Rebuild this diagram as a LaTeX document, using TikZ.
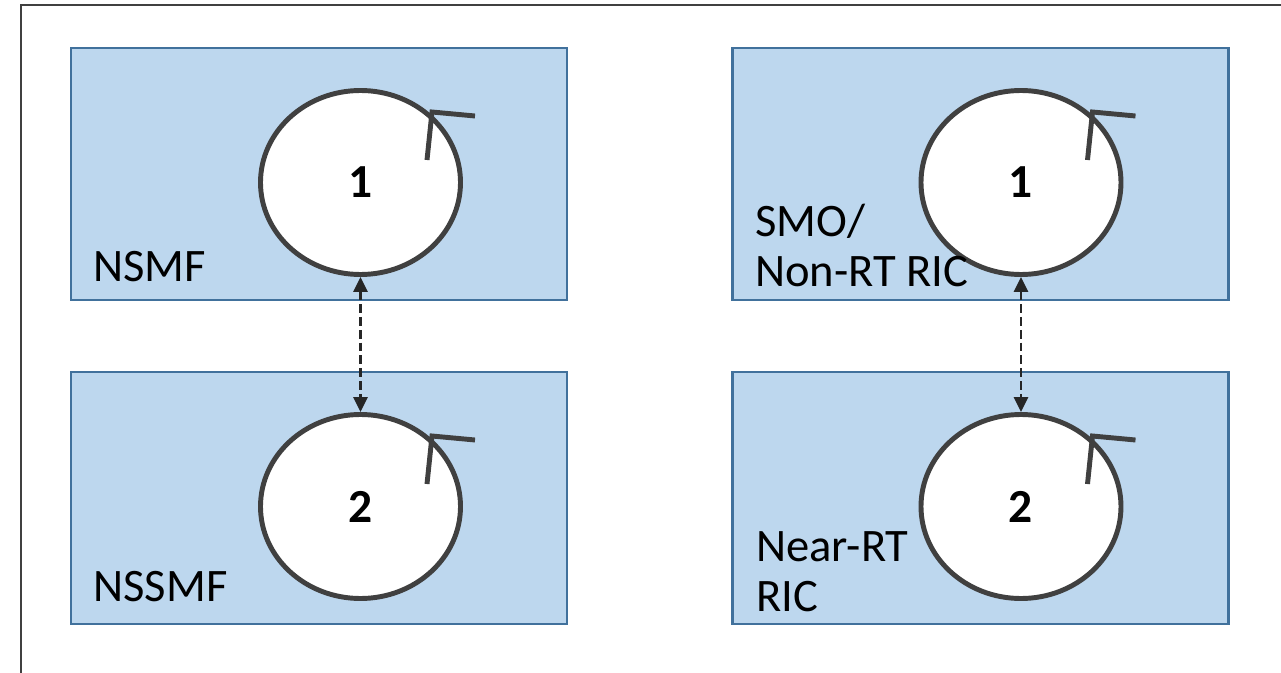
\documentclass[tikz,border=0pt]{standalone}
\usepackage{fontspec}
\setmainfont{Carlito}
\usepackage{tikz}
\usetikzlibrary{arrows.meta,shapes.geometric}
\usepackage{xcolor}
\definecolor{boxfill}{HTML}{BDD7EE}
\definecolor{boxline}{HTML}{41719C}
\definecolor{ring}{HTML}{404040}
\definecolor{arrowgray}{HTML}{262626}

\begin{document}
\begin{tikzpicture}[
    layer/.style={draw=boxline, fill=boxfill, line width=1.4pt,
                  minimum width=9.92cm, minimum height=5.04cm,
                  inner sep=0pt},
    loop/.style={ellipse, draw=ring, fill=white, line width=2.8pt,
                 minimum width=4.0cm, minimum height=3.68cm,
                 font=\fontsize{27}{32}\selectfont\bfseries},
    tick/.style={draw=ring, line width=2.8pt, miter limit=10},
    link/.style={{Triangle[width=0.28cm,length=0.3cm]}-{Triangle[width=0.28cm,length=0.3cm]},
                 arrowgray, line width=1.5pt, dash pattern=on 5pt off 2.3pt},
    labl/.style={anchor=south west, inner sep=0pt, align=left,
                 font=\fontsize{26.5}{28.5}\selectfont}
  ]
  \useasboundingbox (0,0) rectangle (25.62,13.44);
  \clip (0,0) rectangle (25.62,13.44);
  % outer frame, runs off the page on the right and bottom
  \draw[ring, line width=1.7pt] (0.42,13.34) rectangle (27,-1);

  %% --- Left column ---
  \node[layer] (nsmf)  at (6.38, 9.96) {};
  \node[layer] (nssmf) at (6.38, 3.48) {};
  \node[loop]  (c1l)   at (7.21, 9.79) {1};
  \node[loop]  (c2l)   at (7.21, 3.31) {2};
  \node[labl]  at (1.86, 7.80) {NSMF};
  \node[labl]  at (1.86, 1.40) {NSSMF};

  %% --- Right column ---
  \node[layer] (smo) at (19.61, 9.96) {};
  \node[layer] (ric) at (19.61, 3.48) {};
  \node[loop]  (c1r) at (20.42, 9.79) {1};
  \node[loop]  (c2r) at (20.42, 3.31) {2};
  \node[labl]  at (15.10, 7.70) {SMO/\\Non-RT RIC};
  \node[labl]  at (15.12, 1.20) {Near-RT\\RIC};

  % loop heads on every circle
  \foreach \c in {c1l,c2l,c1r,c2r}
    \draw[tick, shift={(\c.center)}] (2.29,1.33) -- (1.43,1.41) -- (1.33,0.45);

  % links between the levels
  \draw[link] (c1l.south) -- (c2l.north);
  \draw[link] (c1r.south) -- (c2r.north);
\end{tikzpicture}
\end{document}
